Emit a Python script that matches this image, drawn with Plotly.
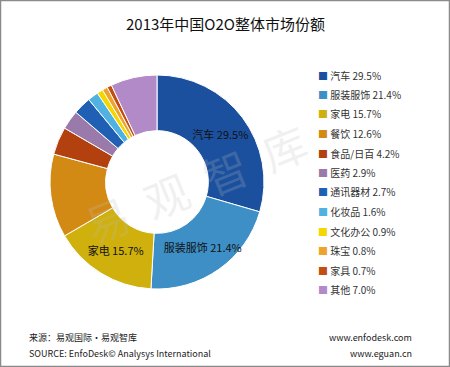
import plotly.graph_objects as go

categories = ["汽车", "服装服饰", "家电", "餐饮", "食品/日百", "医药", "通讯器材",
              "化妆品", "文化办公", "珠宝", "家具", "其他"]
shares = [29.5, 21.4, 15.7, 12.6, 4.2, 2.9, 2.7, 1.6, 0.9, 0.8, 0.7, 7.0]
colors = ["#1b509e", "#3d8fc6", "#cfb00c", "#d38a14", "#b3400f", "#9a79ab",
          "#2060b4", "#50b2e2", "#f4d600", "#efa32a", "#c24e12", "#b38ac8"]
labelled = ["汽车", "服装服饰", "家电"]

W, H = 450, 367
slice_text = [f"{c} {v:.1f}%" if c in labelled else "" for c, v in zip(categories, shares)]

cx, cy, r = 157, 182, 107
fig = go.Figure(go.Pie(
    labels=categories, values=shares, sort=False, direction="clockwise", rotation=0,
    hole=0.48, text=slice_text, textinfo="text", textposition="inside",
    insidetextorientation="horizontal",
    textfont=dict(family="Noto Sans CJK SC", size=11, color="#111"),
    marker=dict(colors=colors, line=dict(color="white", width=1)),
    domain=dict(x=[(cx - r) / W, (cx + r) / W], y=[1 - (cy + r) / H, 1 - (cy - r) / H]),
    showlegend=False, hoverinfo="label+percent",
))

ann = []
# title
ann.append(dict(text="2013年中国O2O整体市场份额", x=225 / W, y=1 - 23 / H, xref="paper", yref="paper",
                showarrow=False, xanchor="center", yanchor="middle",
                font=dict(family="Noto Sans CJK SC", size=15, color="#111")))
# legend
for i, (c, v, col) in enumerate(zip(categories, shares, colors)):
    y = 75 + i * 19.5
    ann.append(dict(text=f"<span style='color:{col}'>■</span> {c} {v:.1f}%",
                    x=316 / W, y=1 - y / H, xref="paper", yref="paper", showarrow=False,
                    xanchor="left", yanchor="middle",
                    font=dict(family="Noto Sans CJK SC", size=10, color="#333")))
# footer
foot_font = dict(family="Noto Sans CJK SC", size=9, color="#222")
ann.append(dict(text="来源：易观国际·易观智库", x=27 / W, y=1 - 337 / H, xref="paper", yref="paper",
                showarrow=False, xanchor="left", yanchor="middle", font=foot_font))
ann.append(dict(text="SOURCE: EnfoDesk© Analysys International", x=27 / W, y=1 - 353 / H,
                xref="paper", yref="paper", showarrow=False, xanchor="left", yanchor="middle",
                font=foot_font))
ann.append(dict(text="www.enfodesk.com", x=414 / W, y=1 - 337 / H, xref="paper", yref="paper",
                showarrow=False, xanchor="right", yanchor="middle", font=foot_font))
ann.append(dict(text="www.eguan.cn", x=414 / W, y=1 - 353 / H, xref="paper", yref="paper",
                showarrow=False, xanchor="right", yanchor="middle", font=foot_font))
# watermark
ann.append(dict(text="易  观  智  库", x=195 / W, y=1 - 183 / H, xref="paper", yref="paper",
                showarrow=False, textangle=-22,
                font=dict(family="Noto Sans CJK SC", size=44, color="rgba(190,190,190,0.22)")))

fig.update_layout(
    width=W, height=H, margin=dict(l=0, r=0, t=0, b=0),
    paper_bgcolor="white", plot_bgcolor="white",
    annotations=ann,
    uniformtext=dict(minsize=11, mode="show"),
    shapes=[dict(type="rect", xref="paper", yref="paper", x0=0.5 / W, x1=1 - 0.5 / W,
                 y0=0.5 / H, y1=1 - 0.5 / H, line=dict(color="#8a8a8a", width=1.5))],
)

fig.write_html("out.html", config={"displayModeBar": False},
               post_script="document.body.style.margin='0';")
